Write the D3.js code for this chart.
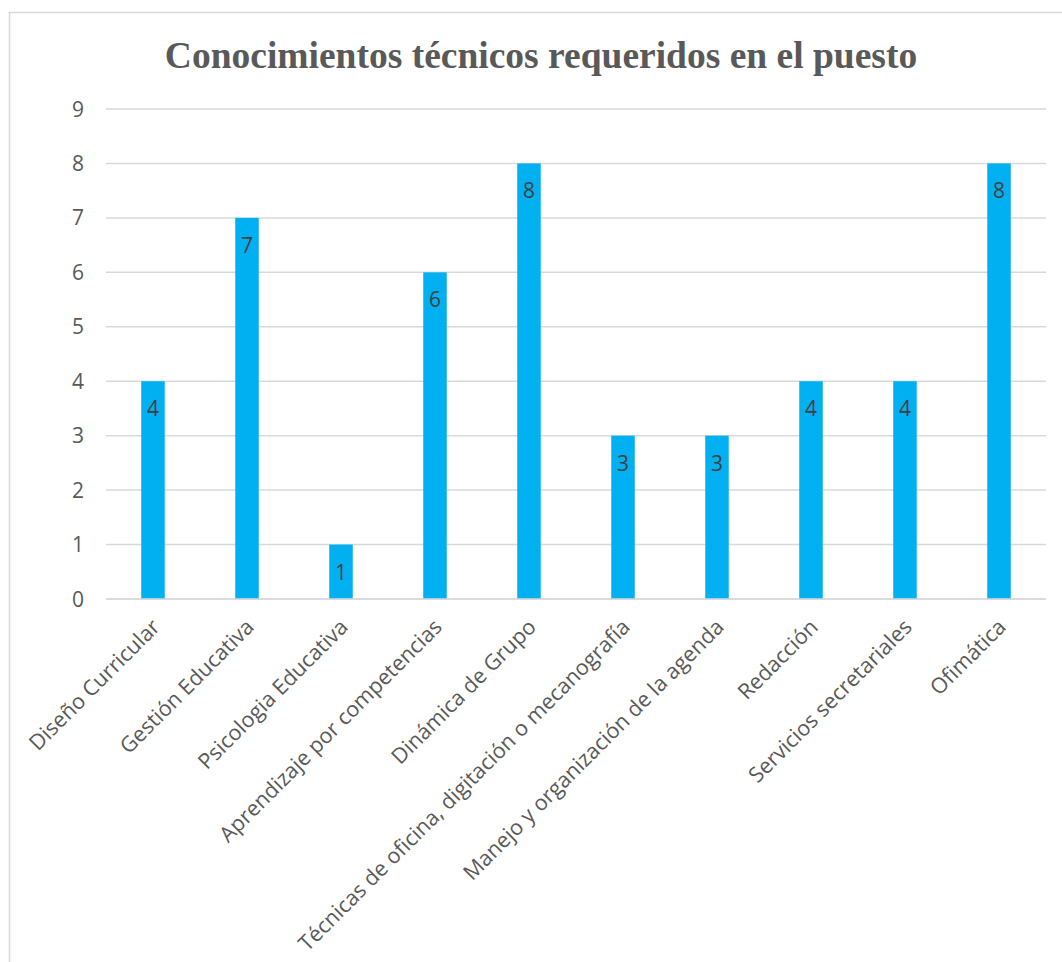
<!DOCTYPE html>
<html>
<head>
<meta charset="utf-8">
<script src="https://cdn.jsdelivr.net/npm/d3@7"></script>
<style>
  html, body { margin: 0; padding: 0; background: #ffffff; }
  svg { display: block; }
</style>
</head>
<body>
<svg id="chart" width="1062" height="962"></svg>
<script>
const categories = [
  "Diseño Curricular",
  "Gestión Educativa",
  "Psicologia Educativa",
  "Aprendizaje por competencias",
  "Dinámica de Grupo",
  "Técnicas de oficina, digitación o mecanografía",
  "Manejo y organización de la agenda",
  "Redacción",
  "Servicios secretariales",
  "Ofimática"
];
const values = [4, 7, 1, 6, 8, 3, 3, 4, 4, 8];
const yTicks = [0, 1, 2, 3, 4, 5, 6, 7, 8, 9];
const title = "Conocimientos técnicos requeridos en el puesto";

const svg = d3.select("#chart");
const plot = { left: 106, right: 1046, top: 109, bottom: 599 };

// chart border (top and left visible)
svg.append("rect")
  .attr("x", 9.5).attr("y", 12.5)
  .attr("width", 1100).attr("height", 1000)
  .attr("fill", "#ffffff")
  .attr("stroke", "#d9d9d9").attr("stroke-width", 1.5);

svg.append("text")
  .attr("x", 541).attr("y", 68)
  .attr("text-anchor", "middle")
  .attr("font-family", "'Liberation Serif', 'Times New Roman', serif")
  .attr("font-weight", "bold")
  .attr("font-size", 37.5)
  .attr("fill", "#595959")
  .text(title);

const x = d3.scaleBand()
  .domain(categories)
  .range([plot.left, plot.right])
  .paddingInner(0)
  .paddingOuter(0);

const y = d3.scaleLinear()
  .domain([0, 9])
  .range([plot.bottom, plot.top]);

// gridlines
svg.append("g").selectAll("line")
  .data(yTicks)
  .join("line")
  .attr("x1", plot.left).attr("x2", plot.right)
  .attr("y1", d => y(d)).attr("y2", d => y(d))
  .attr("stroke", "#d9d9d9").attr("stroke-width", 1.5);

// y labels
svg.append("g").selectAll("text")
  .data(yTicks)
  .join("text")
  .attr("x", 84)
  .attr("y", d => y(d))
  .attr("dy", "0.36em")
  .attr("text-anchor", "end")
  .attr("font-family", "'Open Sans', sans-serif")
  .attr("font-size", 21)
  .attr("fill", "#595959")
  .text(d => d);

const barW = x.bandwidth() * 0.25;

svg.append("g").selectAll("rect")
  .data(values)
  .join("rect")
  .attr("x", (d, i) => x(categories[i]) + x.bandwidth() / 2 - barW / 2)
  .attr("y", d => y(d))
  .attr("width", barW)
  .attr("height", d => y(0) - y(d))
  .attr("fill", "#00B0F0");

// axis line on top of bars
svg.append("line")
  .attr("x1", plot.left).attr("x2", plot.right)
  .attr("y1", y(0)).attr("y2", y(0))
  .attr("stroke", "#d9d9d9").attr("stroke-width", 1.5);

// data labels
svg.append("g").selectAll("text")
  .data(values)
  .join("text")
  .attr("x", (d, i) => x(categories[i]) + x.bandwidth() / 2)
  .attr("y", d => y(d) + 35)
  .attr("text-anchor", "middle")
  .attr("font-family", "'Open Sans', sans-serif")
  .attr("font-size", 21)
  .attr("fill", "#404040")
  .text(d => d);

// x labels rotated
svg.append("g").selectAll("text")
  .data(categories)
  .join("text")
  .attr("transform", (d) => `translate(${x(d) + x.bandwidth() / 2 + 3}, ${plot.bottom + 24}) rotate(-45)`)
  .attr("text-anchor", "end")
  .attr("dy", "0.35em")
  .attr("font-family", "'Open Sans', sans-serif")
  .attr("font-size", 21.5)
  .attr("fill", "#595959")
  .text(d => d);
</script>
</body>
</html>
